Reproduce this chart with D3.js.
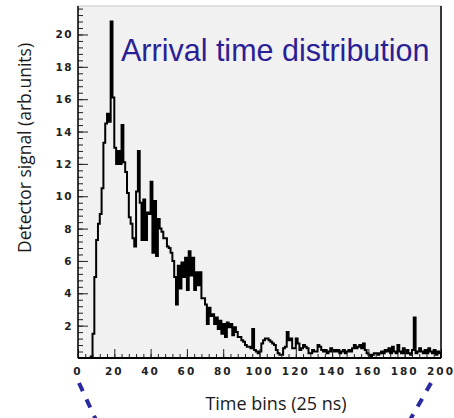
<!DOCTYPE html>
<html lang="en">
	<head>
		<meta charset="utf-8">
		<title>Arrival time distribution</title>
		<script type="text/javascript" src="https://cdn.jsdelivr.net/npm/d3@7"></script>
		<style type="text/css">
			body { margin: 0; background: #fff; }
			svg { display: block; }
		</style>
	</head>
	<body>
		<script type="text/javascript">

			// histogram contents, one value per 25 ns bin (bins 0..199)
			var binStart = 0, binEnd = 200
			var counts = [
				0, 0, 0, 0, 0, 0, 0, 0.1, 1.5, 5.0,
				7.3, 8.3, 8.9, 10.5, 13.3, 14.5, 15.1, 14.6, 20.8, 16.1,
				13.0, 12.0, 12.8, 12.0, 14.4, 12.1, 11.5, 10.2, 8.7, 8.3,
				7.4, 6.9, 10.3, 12.8, 9.6, 7.3, 9.8, 7.3, 9.0, 8.9,
				10.9, 6.5, 9.7, 6.3, 8.6, 8.0, 7.8, 7.4, 7.4, 6.9,
				6.8, 6.5, 6.0, 5.0, 3.3, 5.7, 4.3, 5.9, 5.0, 6.2,
				4.2, 6.6, 5.1, 6.2, 4.2, 5.3, 4.5, 5.3, 3.7, 3.7,
				3.3, 2.1, 3.1, 2.6, 2.7, 2.1, 2.5, 1.8, 2.3, 1.5,
				2.1, 1.3, 2.2, 1.9, 2.1, 1.4, 1.9, 1.6, 1.3, 1.3,
				1.1, 1.0, 0.8, 0.7, 0.7, 0.6, 1.8, 0.5, 0.4, 0.3,
				0.4, 0.9, 1.1, 1.2, 1.2, 1.1, 1.0, 0.9, 0.8, 0.5,
				0.3, 0.2, 0.2, 0.6, 0.7, 1.6, 1.1, 1.2, 0.6, 0.6,
				1.2, 0.9, 0.5, 0.6, 0.8, 0.7, 0.6, 0.3, 0.3, 0.5,
				0.4, 0.4, 0.8, 0.7, 0.5, 0.4, 0.5, 0.3, 0.4, 0.6,
				0.4, 0.5, 0.4, 0.5, 0.3, 0.4, 0.5, 0.3, 0.4, 0.5,
				0.4, 0.6, 0.8, 0.6, 0.7, 0.8, 0.6, 0.9, 0.5, 0.3,
				0.2, 0.1, 0.2, 0.3, 0.3, 0.2, 0.3, 0.4, 0.3, 0.5,
				0.4, 0.6, 0.3, 0.7, 0.4, 0.3, 0.8, 0.4, 0.3, 0.6,
				0.3, 0.5, 0.3, 0.2, 0.5, 2.5, 0.3, 0.4, 0.6, 0.4,
				0.3, 0.5, 0.3, 0.6, 0.4, 0.3, 0.5, 0.2, 0.4, 0.3
			]
			var xTicks = [0, 20, 40, 60, 80, 100, 120, 140, 160, 180, 200]
			var yTicks = [2, 4, 6, 8, 10, 12, 14, 16, 18, 20]
			var yMax = 21.76

			var w = 454, h = 418
			var fL = 78, fR = 441, fT = 6, fB = 358

			var svg = d3.select("body").append("svg").attr("width", w).attr("height", h)

			var xscale = d3.scaleLinear().domain([binStart, binEnd]).range([fL, fR])
			var yscale = d3.scaleLinear().domain([0, yMax]).range([fB, fT])

			// frame background
			svg.append("rect")
				.attr("x", fL).attr("y", fT)
				.attr("width", fR - fL).attr("height", fB - fT)
				.attr("fill", "#f1f1f1")
				.attr("stroke", "#c8c8c8").attr("stroke-width", 1)

			// title inside the frame
			svg.append("text")
				.attr("x", 121).attr("y", 61)
				.text("Arrival time distribution")
				.attr("fill", "#2b1f96")
				.attr("font-family", "Liberation Sans, Arial, sans-serif")
				.attr("font-size", "30.5px")

			// histogram outline as steps
			var pts = [[binStart, 0]]
			for (var i = 0; i < counts.length; i++) {
				pts.push([binStart + i, counts[i]])
				pts.push([binStart + i + 1, counts[i]])
			}
			pts.push([binEnd, 0])

			var line = d3.line()
				.x(function(d) { return xscale(d[0]) })
				.y(function(d) { return yscale(d[1]) })

			svg.append("path")
				.attr("d", line(pts))
				.attr("fill", "none")
				.attr("stroke", "#000")
				.attr("stroke-width", 2)

			// axes, ticks pointing into the frame (ROOT style)
			var xMinor = d3.range(0, 201, 4)
			var yMinor = d3.range(0.4, yMax, 0.4)

			var xaxis = d3.axisTop(xscale).tickValues(xMinor).tickSize(4).tickFormat("")
			svg.append("g").attr("transform", "translate(0," + fB + ")").call(xaxis)
			var xmaj = d3.axisTop(xscale).tickValues(xTicks).tickSize(9).tickFormat("")
			svg.append("g").attr("transform", "translate(0," + fB + ")").call(xmaj)

			var yaxis = d3.axisRight(yscale).tickValues(yMinor).tickSize(5).tickFormat("")
			svg.append("g").attr("transform", "translate(" + fL + ",0)").call(yaxis)
			var ymaj = d3.axisRight(yscale).tickValues(yTicks).tickSize(10).tickFormat("")
			svg.append("g").attr("transform", "translate(" + fL + ",0)").call(ymaj)

			svg.selectAll(".domain").remove()
			svg.selectAll(".tick line").attr("stroke", "#222").attr("stroke-width", 1)

			// frame edges
			svg.append("line").attr("x1", fL).attr("x2", fR).attr("y1", fB).attr("y2", fB)
				.attr("stroke", "#000").attr("stroke-width", 2)
			svg.append("line").attr("x1", fL).attr("x2", fL).attr("y1", fT).attr("y2", fB)
				.attr("stroke", "#000").attr("stroke-width", 1.5)
			svg.append("line").attr("x1", fR).attr("x2", fR).attr("y1", fT).attr("y2", fB)
				.attr("stroke", "#000").attr("stroke-width", 1.5)

			// tick labels
			svg.selectAll(".xlab")
				.data(xTicks)
				.enter()
				.append("text")
				.attr("class", "xlab")
				.attr("x", function(d) { return xscale(d) })
				.attr("y", 375)
				.text(function(d) { return d })
				.attr("text-anchor", "middle")
				.attr("font-family", "DejaVu Sans, sans-serif")
				.attr("font-weight", "bold")
				.attr("font-size", "10.5px")
				.attr("letter-spacing", "2px")
				.attr("fill", "#222")

			svg.selectAll(".ylab")
				.data(yTicks)
				.enter()
				.append("text")
				.attr("class", "ylab")
				.attr("x", 73)
				.attr("y", function(d) { return yscale(d) + 4 })
				.text(function(d) { return d })
				.attr("text-anchor", "end")
				.attr("font-family", "DejaVu Sans, sans-serif")
				.attr("font-weight", "bold")
				.attr("font-size", "10.5px")
				.attr("letter-spacing", "1.5px")
				.attr("fill", "#222")

			// axis titles
			svg.append("text")
				.attr("x", 276).attr("y", 410)
				.text("Time bins (25 ns)")
				.attr("text-anchor", "middle")
				.attr("font-family", "Open Sans, sans-serif")
				.attr("font-size", "18px")
				.attr("fill", "#1a1a1a")

			svg.append("text")
				.attr("transform", "translate(31,148) rotate(-90)")
				.text("Detector signal (arb.units)")
				.attr("text-anchor", "middle")
				.attr("font-family", "Open Sans, sans-serif")
				.attr("font-size", "17.5px")
				.attr("fill", "#1a1a1a")

			// dashed zoom guides below the axis
			var guides = [[[79, 383], [96, 420]], [[431, 383], [410, 420]]]
			svg.selectAll(".guide")
				.data(guides)
				.enter()
				.append("line")
				.attr("class", "guide")
				.attr("x1", function(d) { return d[0][0] })
				.attr("y1", function(d) { return d[0][1] })
				.attr("x2", function(d) { return d[1][0] })
				.attr("y2", function(d) { return d[1][1] })
				.attr("stroke", "#2a2aa0")
				.attr("stroke-width", 4)
				.attr("stroke-dasharray", "9,9")

		</script>
	</body>
</html>
